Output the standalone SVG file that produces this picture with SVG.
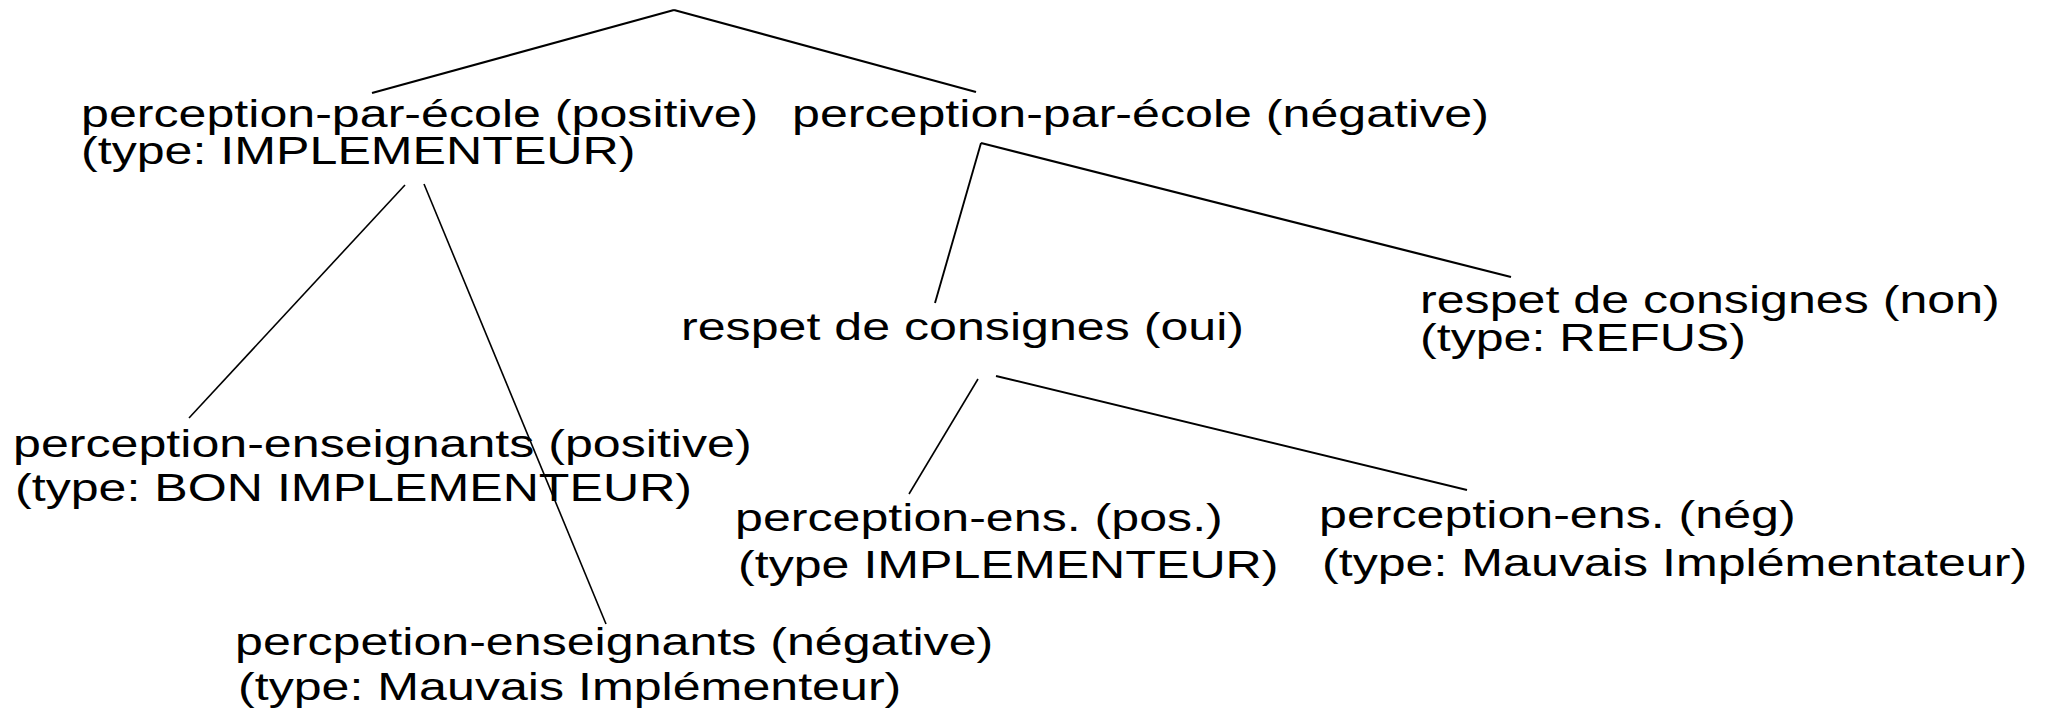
<svg xmlns="http://www.w3.org/2000/svg" width="2047" height="715" viewBox="0 0 2047 715">
<style>
  text { font-family: "Liberation Sans", Arial, sans-serif; font-size: 38px; fill: #000; }
  .c line { stroke: #000; stroke-linecap: butt; fill: none; }
  .t { stroke-width: 2.2; }
  .m { stroke-width: 1.9; }
  .n { stroke-width: 1.6; }
</style>
<rect x="0" y="0" width="2047" height="715" fill="#fff"/>
<g id="connectors" class="c">
  <line class="t" x1="674" y1="10" x2="372" y2="93"/>
  <line class="t" x1="674" y1="10" x2="976" y2="92"/>
  <line class="n" x1="405" y1="185" x2="189" y2="418"/>
  <line class="n" x1="424" y1="184" x2="606" y2="624"/>
  <line class="m" x1="981" y1="143" x2="935" y2="303"/>
  <line class="t" x1="981" y1="143" x2="1511" y2="277"/>
  <line class="n" x1="978" y1="379" x2="909" y2="494"/>
  <line class="m" x1="996" y1="376" x2="1467" y2="490"/>
</g>
<g id="node-ecole-positive">
  <text transform="translate(81,127) scale(1.32,1)">perception-par-école (positive)</text>
  <text transform="translate(81,164) scale(1.32,1)">(type: IMPLEMENTEUR)</text>
</g>
<g id="node-ecole-negative">
  <text transform="translate(792,127) scale(1.32,1)">perception-par-école (négative)</text>
</g>
<g id="node-consignes-oui">
  <text transform="translate(681,340) scale(1.32,1)">respet de consignes (oui)</text>
</g>
<g id="node-consignes-non">
  <text transform="translate(1420,313) scale(1.32,1)">respet de consignes (non)</text>
  <text transform="translate(1420,351) scale(1.32,1)">(type: REFUS)</text>
</g>
<g id="node-ens-positive">
  <text transform="translate(13,457) scale(1.32,1)">perception-enseignants (positive)</text>
  <text transform="translate(15,501) scale(1.32,1)">(type: BON IMPLEMENTEUR)</text>
</g>
<g id="node-ens-negative">
  <text transform="translate(235,655) scale(1.32,1)">percpetion-enseignants (négative)</text>
  <text transform="translate(238,700) scale(1.32,1)">(type: Mauvais Implémenteur)</text>
</g>
<g id="node-ens-pos">
  <text transform="translate(735,531) scale(1.32,1)">perception-ens. (pos.)</text>
  <text transform="translate(738,578) scale(1.32,1)">(type IMPLEMENTEUR)</text>
</g>
<g id="node-ens-neg">
  <text transform="translate(1319,528) scale(1.32,1)">perception-ens. (nég)</text>
  <text transform="translate(1322,576) scale(1.32,1)">(type: Mauvais Implémentateur)</text>
</g>
</svg>
